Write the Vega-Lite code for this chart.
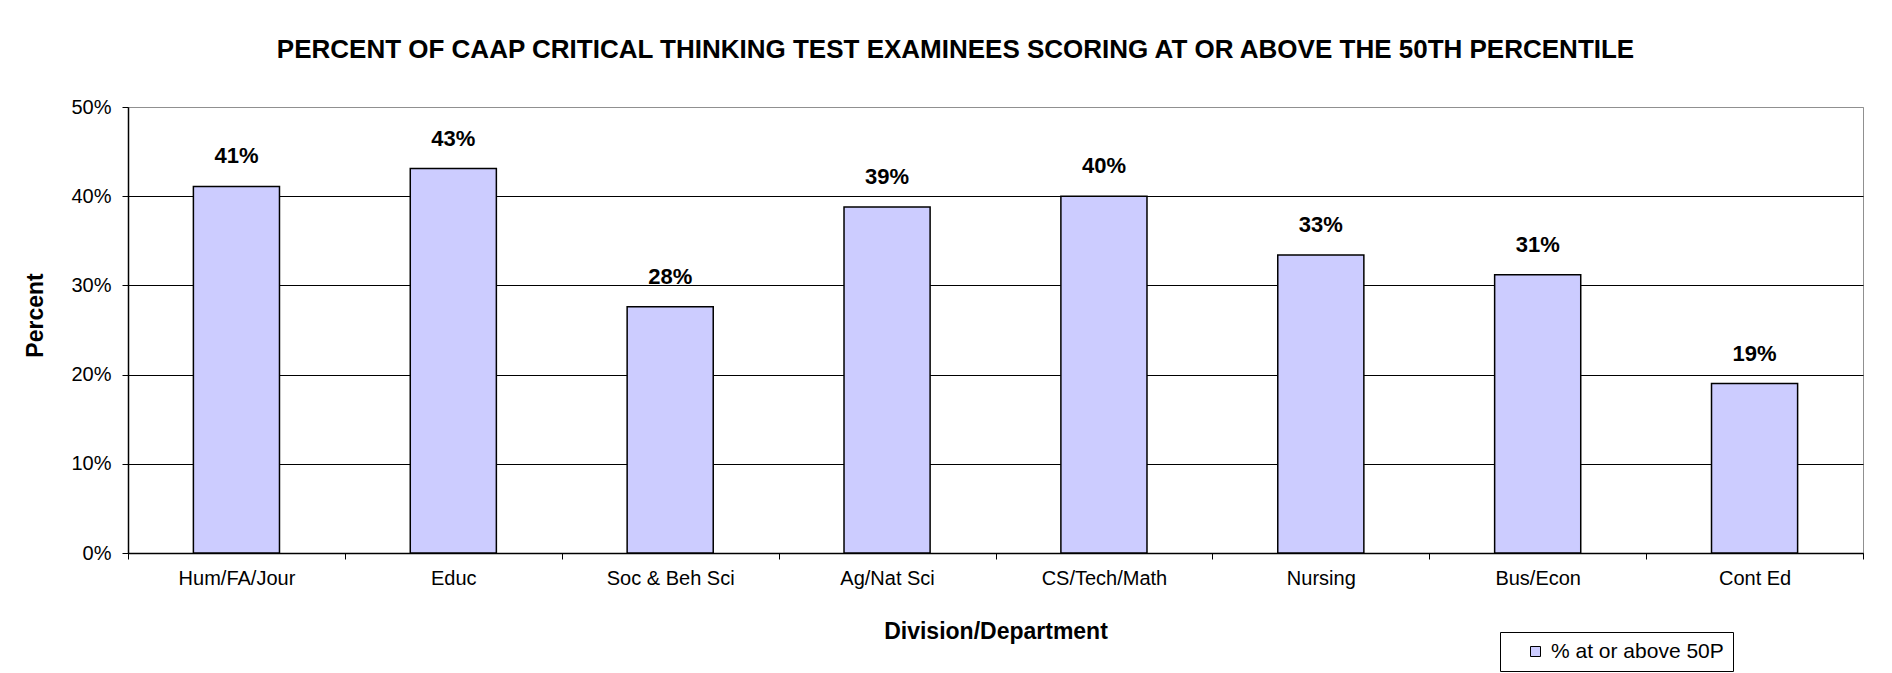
{
  "$schema": "https://vega.github.io/schema/vega-lite/v6.json",
  "width": 1735,
  "height": 446,
  "autosize": {"type": "none"},
  "padding": {"left": 128, "top": 107, "right": 29, "bottom": 120},
  "background": "white",
  "title": {
    "text": "PERCENT OF CAAP CRITICAL THINKING TEST EXAMINEES SCORING AT OR ABOVE THE 50TH PERCENTILE",
    "font": "Liberation Sans",
    "fontSize": 26,
    "fontWeight": "bold",
    "color": "#000000",
    "anchor": "middle",
    "frame": "group",
    "dx": -40,
    "baseline": "alphabetic",
    "offset": 13
  },
  "data": {
    "values": [
      {"division": "Hum/FA/Jour", "pct": 0.411, "series": "% at or above 50P"},
      {"division": "Educ", "pct": 0.431, "series": "% at or above 50P"},
      {"division": "Soc & Beh Sci", "pct": 0.276, "series": "% at or above 50P"},
      {"division": "Ag/Nat Sci", "pct": 0.388, "series": "% at or above 50P"},
      {"division": "CS/Tech/Math", "pct": 0.400, "series": "% at or above 50P"},
      {"division": "Nursing", "pct": 0.334, "series": "% at or above 50P"},
      {"division": "Bus/Econ", "pct": 0.312, "series": "% at or above 50P"},
      {"division": "Cont Ed", "pct": 0.190, "series": "% at or above 50P"}
    ]
  },
  "encoding": {
    "x": {
      "field": "division",
      "type": "nominal",
      "sort": null,
      "scale": {"paddingInner": 0, "paddingOuter": 0},
      "axis": {
        "title": "Division/Department",
        "titleFont": "Liberation Sans",
        "titleFontSize": 23,
        "titleFontWeight": "bold",
        "titleColor": "#000000",
        "titleY": 78,
        "titleBaseline": "middle",
        "labelFont": "Liberation Sans",
        "labelFontSize": 20,
        "labelColor": "#000000",
        "labelAngle": 0,
        "labelPadding": 9,
        "labelLimit": 0,
        "tickBand": "extent",
        "tickSize": 6,
        "tickColor": "#000000",
        "domainColor": "#000000",
        "domainWidth": 1.5,
        "grid": false
      }
    },
    "y": {
      "field": "pct",
      "type": "quantitative",
      "scale": {"domain": [0, 0.5], "nice": false},
      "axis": {
        "title": "Percent",
        "titleFont": "Liberation Sans",
        "titleFontSize": 23,
        "titleFontWeight": "bold",
        "titleColor": "#000000",
        "titleX": -93,
        "titleY": 208,
        "titleAngle": 270,
        "titleAlign": "center",
        "titleBaseline": "middle",
        "format": ".0%",
        "values": [0, 0.1, 0.2, 0.3, 0.4, 0.5],
        "labelFont": "Liberation Sans",
        "labelFontSize": 20,
        "labelColor": "#000000",
        "labelPadding": 11,
        "tickSize": 6,
        "tickColor": "#000000",
        "domainColor": "#000000",
        "domainWidth": 1.5,
        "grid": true,
        "gridColor": {"condition": {"test": "datum.value >= 0.5", "value": "#909090"}, "value": "#000000"},
        "gridWidth": 1,
        "gridOpacity": 1
      }
    }
  },
  "layer": [
    {
      "mark": {"type": "bar", "width": {"band": 0.397}, "stroke": "#000000", "strokeWidth": 1.5},
      "encoding": {
        "fill": {
          "field": "series",
          "type": "nominal",
          "scale": {"range": ["#CCCCFF"]},
          "legend": {
            "title": null,
            "orient": "none",
            "legendX": 1372,
            "legendY": 525,
            "strokeColor": "#000000",
            "fillColor": "#FFFFFF",
            "padding": 9,
            "symbolType": "square",
            "symbolSize": 100,
            "symbolStrokeColor": "#000000",
            "symbolStrokeWidth": 1,
            "symbolOffset": 16,
            "labelFont": "Liberation Sans",
            "labelFontSize": 21,
            "labelColor": "#000000",
            "labelOffset": 5,
            "labelLimit": 0
          }
        }
      }
    },
    {
      "mark": {"type": "text", "dy": -30, "baseline": "middle", "font": "Liberation Sans", "fontSize": 22, "fontWeight": "bold", "color": "#000000"},
      "encoding": {"text": {"field": "pct", "type": "quantitative", "format": ".0%"}}
    }
  ],
  "config": {"view": {"stroke": "#909090", "strokeWidth": 1}}
}
